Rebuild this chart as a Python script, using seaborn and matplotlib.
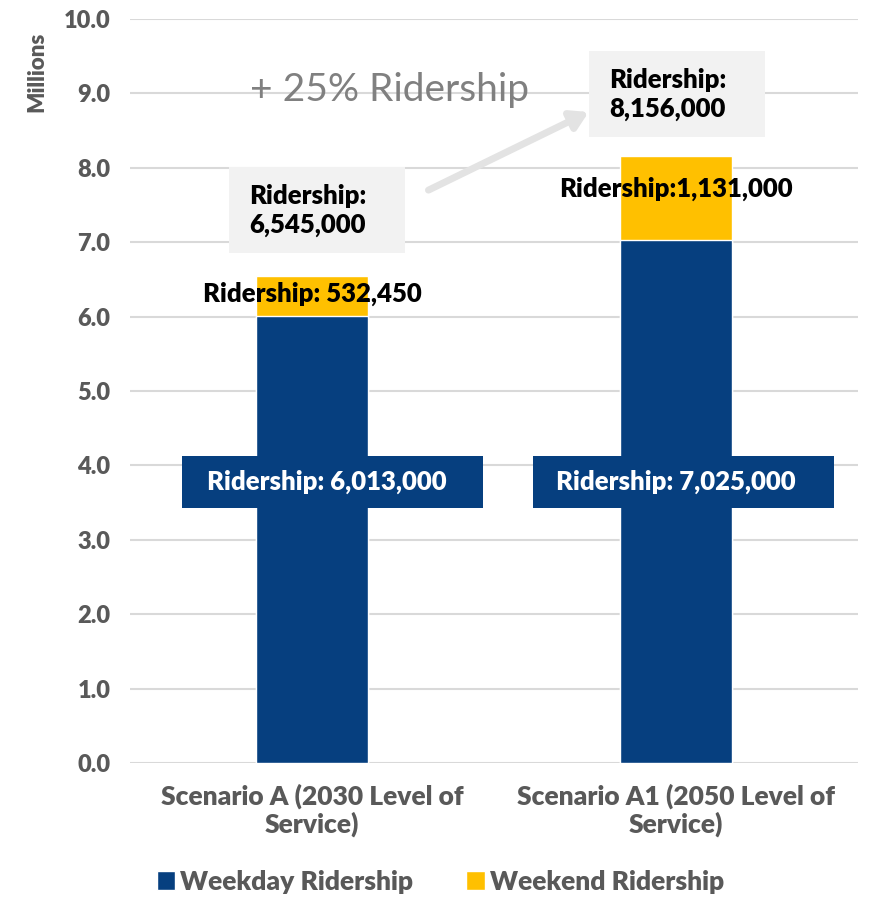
import matplotlib
matplotlib.use("Agg")
from matplotlib import pyplot as plt
from matplotlib.patches import Patch, Rectangle
import seaborn as sns
import pandas as pd

categories = ["Scenario A (2030 Level of\nService)", "Scenario A1 (2050 Level of\nService)"]
weekday = [6.013, 7.025]
weekend = [0.53245, 1.131]
weekday_labels = ["Ridership: 6,013,000", "Ridership: 7,025,000"]
weekend_labels = ["Ridership: 532,450", "Ridership:1,131,000"]
total_labels = ["Ridership:\n6,545,000", "Ridership:\n8,156,000"]
growth_label = "+ 25% Ridership"
series_names = ["Weekday Ridership", "Weekend Ridership"]
yticks = [0, 1, 2, 3, 4, 5, 6, 7, 8, 9, 10]

BLUE = "#063f7f"
YELLOW = "#ffc000"
GRAY = "#595959"

sns.set_style("white")
plt.rcParams["font.family"] = ["Lato", "DejaVu Sans"]
W = "heavy"

df = pd.DataFrame({"cat": categories, "weekday": weekday, "weekend": weekend})
df["total"] = df["weekday"] + df["weekend"]

fig = plt.figure(figsize=(8.72, 8.97), dpi=100)
ax = fig.add_axes([0.149, 0.1494, 0.835, 0.8294])

sns.barplot(data=df, x="cat", y="total", color=YELLOW, width=0.31, ax=ax, saturation=1)
sns.barplot(data=df, x="cat", y="weekday", color=BLUE, width=0.31, ax=ax, saturation=1)

ax.set_xlim(-0.5, 1.5)
ax.set_ylim(0, 10)
ax.set_yticks(yticks)
ax.set_yticklabels([f"{t:.1f}" for t in yticks], fontsize=17, fontweight=W, color=GRAY)
ax.yaxis.grid(True, color="#d9d9d9", linewidth=1.5)
ax.set_axisbelow(True)
for s in ax.spines.values():
    s.set_visible(False)
ax.tick_params(axis="y", length=0, pad=14)
ax.tick_params(axis="x", length=0, pad=15)
ax.set_xticklabels(categories, fontsize=19, fontweight=W, color=GRAY, linespacing=1.12)
ax.set_xlabel("")
ax.set_ylabel("")
fig.text(0.042, 0.92, "Millions", rotation=90, ha="center", va="center",
         fontsize=16, fontweight=W, color=GRAY)

# the label boxes sit a little off the bar centre in the original
box_left = [-0.357, -0.393]
text_dx = [0.04, 0.0]
for i in range(len(categories)):
    # weekday label on dark box
    ax.add_patch(Rectangle((i + box_left[i], 3.43), 0.828, 0.70, facecolor=BLUE,
                           edgecolor="none", zorder=3))
    ax.text(i + text_dx[i], 3.78, weekday_labels[i], ha="center", va="center",
            fontsize=18.5, fontweight=W, color="white", zorder=4)
    # weekend label
    yoff = 0.03 if i == 0 else 0.12
    ax.text(i, weekday[i] + weekend[i] / 2 + yoff, weekend_labels[i], ha="center",
            va="center", fontsize=18.5, fontweight=W, color="black", zorder=4)

# total callouts
boxes = [(-0.228, 6.85), (0.761, 8.41)]
for (bx, by), lab in zip(boxes, total_labels):
    ax.add_patch(Rectangle((bx, by), 0.484, 1.16, facecolor="#f2f2f2",
                           edgecolor="none", zorder=3))
    ax.text(bx + 0.055, by + 0.58, lab, ha="left", va="center", fontsize=18.5,
            fontweight=W, color="black", linespacing=1.25, zorder=4)

ax.text(-0.17, 9.05, growth_label, ha="left", va="center", fontsize=28, color="#808080")
ax.annotate("", xy=(0.76, 8.75), xytext=(0.32, 7.70),
            arrowprops=dict(arrowstyle="-|>,head_length=1.0,head_width=0.6",
                            color="#e3e3e3", lw=5, shrinkA=0, shrinkB=0))

handles = [Patch(facecolor=BLUE), Patch(facecolor=YELLOW)]
leg = fig.legend(handles, series_names, loc="center", bbox_to_anchor=(0.505, 0.017),
                 ncol=2, frameon=False, handlelength=0.7, handleheight=0.7,
                 handletextpad=0.2, columnspacing=2.0,
                 prop={"size": 19, "weight": W})
for t in leg.get_texts():
    t.set_color(GRAY)

fig.savefig("out.png", dpi=100, facecolor="white")
